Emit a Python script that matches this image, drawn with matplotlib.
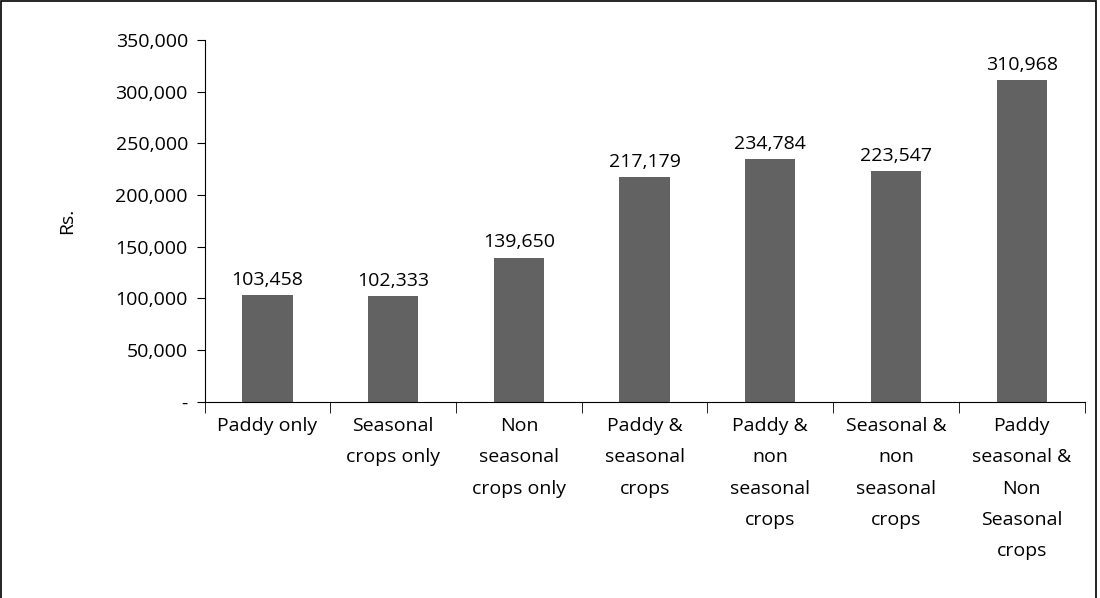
import matplotlib.pyplot as plt
from matplotlib.patches import Rectangle

categories = ["Paddy only", "Seasonal\ncrops only", "Non\nseasonal\ncrops only",
              "Paddy &\nseasonal\ncrops", "Paddy &\nnon\nseasonal\ncrops",
              "Seasonal &\nnon\nseasonal\ncrops", "Paddy\nseasonal &\nNon\nSeasonal\ncrops"]
values = [103458, 102333, 139650, 217179, 234784, 223547, 310968]
yticks = [0, 50000, 100000, 150000, 200000, 250000, 300000, 350000]

plt.rcParams['font.family'] = ['Open Sans', 'DejaVu Sans']
fs = 14
fig = plt.figure(figsize=(11, 5.98), dpi=100)
fig.patches.append(Rectangle((0.001, -0.01), 0.995, 1.008, transform=fig.transFigure,
                             fill=False, edgecolor='black', linewidth=1.2))
ax = fig.add_axes([0.186, 0.328, 0.80, 0.605])
x = list(range(len(categories)))
ax.bar(x, values, width=0.4, color='#626262')
for xi, v in zip(x, values):
    ax.text(xi, v + 6000, f"{v:,}", ha='center', va='bottom', fontsize=fs)

ax.set_xlim(-0.5, len(categories) - 0.5)
ax.set_ylim(0, 350000)
ax.set_yticks(yticks)
ax.set_yticklabels(['-'] + [f"{t:,}" for t in yticks[1:]], fontsize=fs)
ax.set_xticks(x)
ax.set_xticklabels(categories, fontsize=fs, va='top', linespacing=1.95)
ax.tick_params(axis='x', length=0, pad=11)
ax.set_xticks([i - 0.5 for i in range(len(categories) + 1)], minor=True)
ax.tick_params(axis='x', which='minor', length=8, direction='out')
ax.tick_params(axis='y', length=6, direction='out', pad=6)
ax.set_ylabel("Rs.", fontsize=fs, labelpad=28)
for s in ['top', 'right']:
    ax.spines[s].set_visible(False)
fig.savefig("out.png", dpi=100)
